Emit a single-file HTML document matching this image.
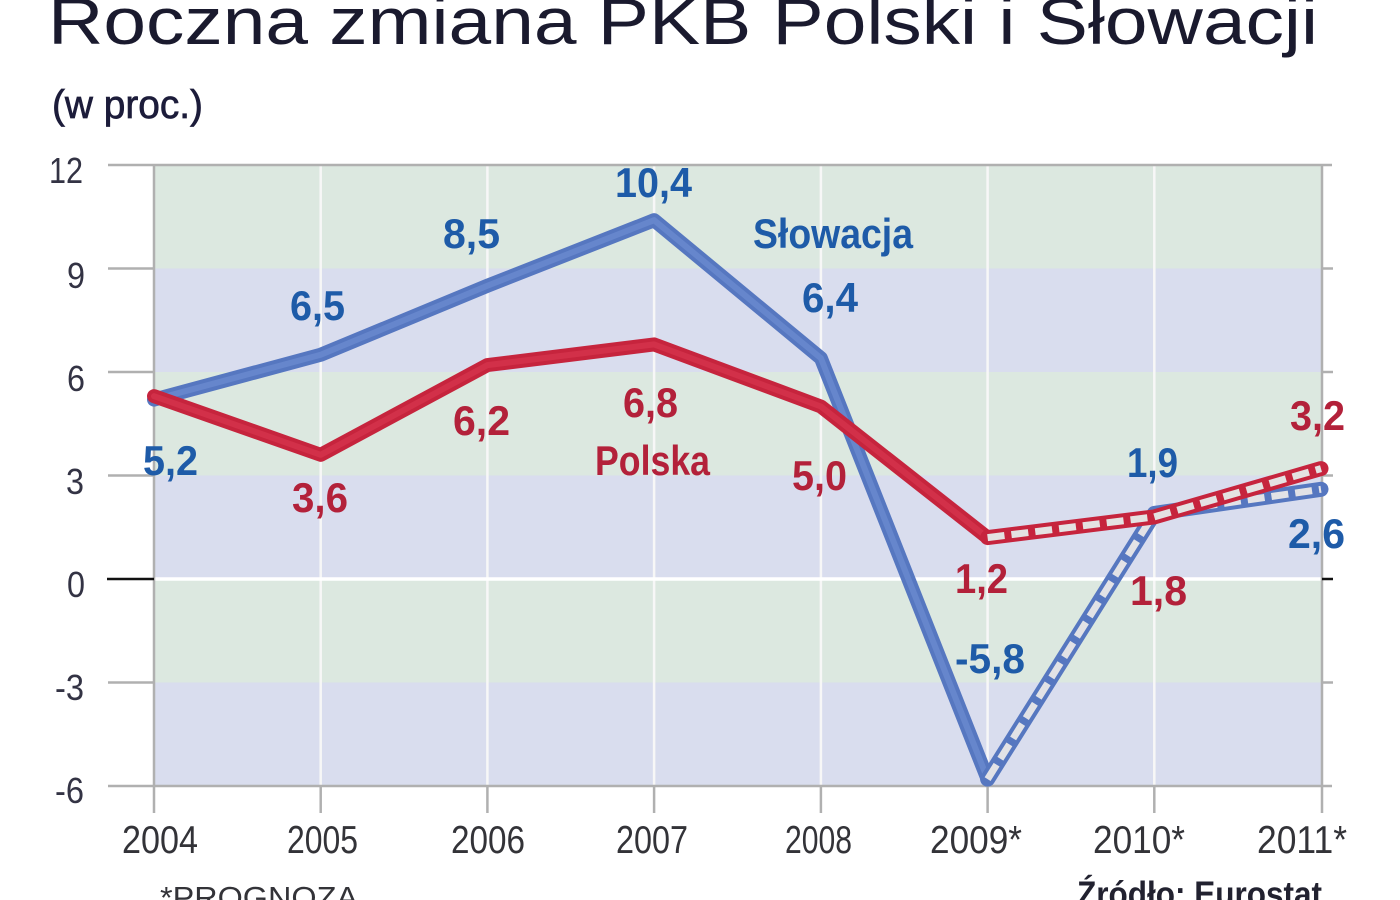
<!DOCTYPE html>
<html><head><meta charset="utf-8"><style>
html,body{margin:0;padding:0;background:#fff;}
svg{display:block;}
text{font-family:"Liberation Sans",sans-serif;}
</style></head><body>
<svg width="1400" height="900" viewBox="0 0 1400 900" xmlns="http://www.w3.org/2000/svg">
<rect width="1400" height="900" fill="#fff"/>
<!-- title -->
<text x="48" y="44" font-size="66" fill="#1a1a2e" textLength="1270" lengthAdjust="spacingAndGlyphs">Roczna zmiana PKB Polski i Słowacji</text>
<text x="52" y="118" font-size="40" fill="#1c1c3a" stroke="#1c1c3a" stroke-width="0.7" textLength="151" lengthAdjust="spacingAndGlyphs">(w proc.)</text>

<!-- bands -->
<rect x="154" y="165" width="1168" height="103.5" fill="#dce8e0"/>
<rect x="154" y="268.5" width="1168" height="103.5" fill="#d9ddee"/>
<rect x="154" y="372" width="1168" height="103.5" fill="#dce8e0"/>
<rect x="154" y="475.5" width="1168" height="103.5" fill="#d9ddee"/>
<rect x="154" y="579" width="1168" height="103.5" fill="#dce8e0"/>
<rect x="154" y="682.5" width="1168" height="103.5" fill="#d9ddee"/>

<!-- vertical white gridlines -->
<g stroke="#f7f7f7" stroke-width="2.5">
<line x1="320.7" y1="166" x2="320.7" y2="785"/>
<line x1="487.4" y1="166" x2="487.4" y2="785"/>
<line x1="654.1" y1="166" x2="654.1" y2="785"/>
<line x1="820.9" y1="166" x2="820.9" y2="785"/>
<line x1="987.6" y1="166" x2="987.6" y2="785"/>
<line x1="1154.3" y1="166" x2="1154.3" y2="785"/>
</g>
<line x1="154" y1="579" x2="1322" y2="579" stroke="#ffffff" stroke-width="3.5"/>

<!-- frame -->
<g stroke="#b0b0b0" stroke-width="2.5">
<line x1="108" y1="165" x2="1332" y2="165"/>
<line x1="108" y1="786" x2="1332" y2="786"/>
<line x1="154" y1="165" x2="154" y2="813"/>
<line x1="1322" y1="165" x2="1322" y2="813"/>
<line x1="320.7" y1="786" x2="320.7" y2="813"/>
<line x1="487.4" y1="786" x2="487.4" y2="813"/>
<line x1="654.1" y1="786" x2="654.1" y2="813"/>
<line x1="820.9" y1="786" x2="820.9" y2="813"/>
<line x1="987.6" y1="786" x2="987.6" y2="813"/>
<line x1="1154.3" y1="786" x2="1154.3" y2="813"/>
<line x1="108" y1="268.5" x2="154" y2="268.5"/>
<line x1="108" y1="372" x2="154" y2="372"/>
<line x1="108" y1="475.5" x2="154" y2="475.5"/>
<line x1="108" y1="682.5" x2="154" y2="682.5"/>
<line x1="1322" y1="268.5" x2="1333" y2="268.5"/>
<line x1="1322" y1="372" x2="1333" y2="372"/>
<line x1="1322" y1="475.5" x2="1333" y2="475.5"/>
<line x1="1322" y1="682.5" x2="1333" y2="682.5"/>
</g>
<line x1="107" y1="579" x2="154" y2="579" stroke="#111" stroke-width="2.5"/>
<line x1="1322" y1="579" x2="1333" y2="579" stroke="#111" stroke-width="2.5"/>

<!-- y labels -->
<g font-size="36" fill="#333344">
<text x="49" y="183" textLength="34" lengthAdjust="spacingAndGlyphs">12</text>
<text x="67" y="288" textLength="18" lengthAdjust="spacingAndGlyphs">9</text>
<text x="67" y="391" textLength="18" lengthAdjust="spacingAndGlyphs">6</text>
<text x="66" y="494" textLength="18" lengthAdjust="spacingAndGlyphs">3</text>
<text x="67" y="597" textLength="18" lengthAdjust="spacingAndGlyphs">0</text>
<text x="55" y="700" textLength="29" lengthAdjust="spacingAndGlyphs">-3</text>
<text x="55" y="803" textLength="29" lengthAdjust="spacingAndGlyphs">-6</text>
</g>

<!-- x labels -->
<g font-size="39" fill="#333338">
<text x="122" y="853" textLength="76" lengthAdjust="spacingAndGlyphs">2004</text>
<text x="287" y="853" textLength="71" lengthAdjust="spacingAndGlyphs">2005</text>
<text x="451" y="853" textLength="74" lengthAdjust="spacingAndGlyphs">2006</text>
<text x="616" y="853" textLength="72" lengthAdjust="spacingAndGlyphs">2007</text>
<text x="785" y="853" textLength="67" lengthAdjust="spacingAndGlyphs">2008</text>
<text x="930" y="853" textLength="92" lengthAdjust="spacingAndGlyphs">2009*</text>
<text x="1093" y="853" textLength="92" lengthAdjust="spacingAndGlyphs">2010*</text>
<text x="1257" y="853" textLength="90" lengthAdjust="spacingAndGlyphs">2011*</text>
</g>
<text x="160" y="908" font-size="31" fill="#333338" textLength="198" lengthAdjust="spacingAndGlyphs">*PROGNOZA</text>
<text x="1077" y="906" font-size="35" font-weight="bold" fill="#222230" textLength="245" lengthAdjust="spacingAndGlyphs">Źródło: Eurostat</text>

<!-- Slovakia -->
<g fill="none" stroke-linecap="round" stroke-linejoin="round">
<polyline points="154,399.6 320.7,354.75 487.4,285.75 654.1,220.2 820.9,358.2 987.6,779.1" stroke="#5677c0" stroke-width="14"/>
<polyline points="154,399.6 320.7,354.75 487.4,285.75 654.1,220.2 820.9,358.2 987.6,779.1" stroke="#6686cc" stroke-width="6"/>
<polyline points="987.6,779.1 1154.3,513.45 1321,489.3" stroke="#5677c0" stroke-width="15"/>
<polyline points="987.6,779.1 1154.3,513.45 1321,489.3" stroke="#e2e2e6" stroke-width="7" stroke-linecap="butt" stroke-dasharray="17 7"/>
</g>
<!-- Poland -->
<g fill="none" stroke-linecap="round" stroke-linejoin="round">
<polyline points="154,396.15 320.7,454.8 487.4,365.1 654.1,344.4 820.9,406.5 987.6,537.6" stroke="#c6243d" stroke-width="14"/>
<polyline points="154,396.15 320.7,454.8 487.4,365.1 654.1,344.4 820.9,406.5 987.6,537.6" stroke="#d23049" stroke-width="6"/>
<polyline points="987.6,537.6 1154.3,516.9 1321,468.6" stroke="#c6243d" stroke-width="15"/>
<polyline points="987.6,537.6 1154.3,516.9 1321,468.6" stroke="#e4e2e2" stroke-width="7" stroke-linecap="butt" stroke-dasharray="17 7"/>
</g>

<!-- labels blue -->
<g font-size="42" font-weight="bold" fill="#1e5ba8">
<text x="615" y="197" textLength="77" lengthAdjust="spacingAndGlyphs">10,4</text>
<text x="443" y="248" textLength="57" lengthAdjust="spacingAndGlyphs">8,5</text>
<text x="290" y="320" textLength="55" lengthAdjust="spacingAndGlyphs">6,5</text>
<text x="753" y="248" textLength="160" lengthAdjust="spacingAndGlyphs">Słowacja</text>
<text x="802" y="312" textLength="56" lengthAdjust="spacingAndGlyphs">6,4</text>
<text x="143" y="475" textLength="55" lengthAdjust="spacingAndGlyphs">5,2</text>
<text x="955" y="673" textLength="70" lengthAdjust="spacingAndGlyphs">-5,8</text>
<text x="1127" y="477" textLength="51" lengthAdjust="spacingAndGlyphs">1,9</text>
<text x="1288" y="548" textLength="57" lengthAdjust="spacingAndGlyphs">2,6</text>
</g>
<!-- labels red -->
<g font-size="42" font-weight="bold" fill="#b3213a">
<text x="292" y="512" textLength="56" lengthAdjust="spacingAndGlyphs">3,6</text>
<text x="453" y="435" textLength="57" lengthAdjust="spacingAndGlyphs">6,2</text>
<text x="623" y="417" textLength="55" lengthAdjust="spacingAndGlyphs">6,8</text>
<text x="595" y="475" textLength="115" lengthAdjust="spacingAndGlyphs">Polska</text>
<text x="792" y="490" textLength="55" lengthAdjust="spacingAndGlyphs">5,0</text>
<text x="955" y="593" textLength="53" lengthAdjust="spacingAndGlyphs">1,2</text>
<text x="1130" y="605" textLength="57" lengthAdjust="spacingAndGlyphs">1,8</text>
<text x="1290" y="430" textLength="55" lengthAdjust="spacingAndGlyphs">3,2</text>
</g>
</svg>
</body></html>
